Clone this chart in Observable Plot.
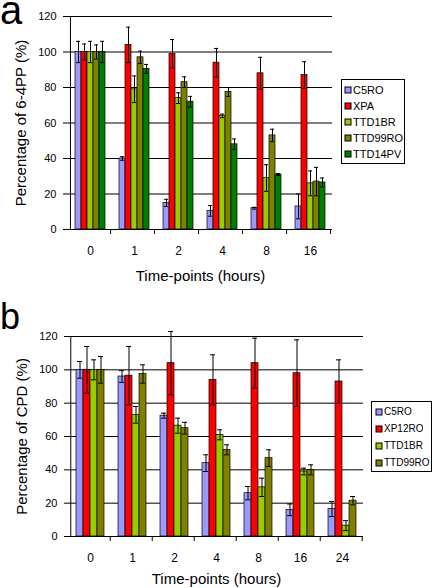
<!DOCTYPE html>
<html><head><meta charset="utf-8">
<script src="https://cdn.jsdelivr.net/npm/d3@7"></script>
<script src="https://cdn.jsdelivr.net/npm/@observablehq/plot@0.6"></script>
<style>
html,body{margin:0;padding:0;background:#fff;}
#wrap{position:relative;width:434px;height:588px;overflow:hidden;font-family:"Liberation Sans",Arial,sans-serif;color:#000;}
.panel{position:absolute;left:0;}
.panel svg{overflow:visible;}
.letter{position:absolute;left:0;line-height:1;color:#000;font-family:"Liberation Sans",Arial,sans-serif;}
.lgbox{position:absolute;border:1px solid #000;background:#fff;box-sizing:border-box;}
#wrap .lgbox *{font-family:"Liberation Sans",Arial,sans-serif !important;color:#000 !important;}
#wrap .lgbox > div, #wrap .lgbox > figure{margin:0 !important;padding:0 !important;columns:auto !important;}
#wrap .lgbox svg{overflow:visible;stroke:#000;stroke-width:1px;margin-right:2px !important;flex-shrink:0;}
svg [aria-label="y-axis label"], svg [aria-label="fx-axis label"]{font-size:15px;}
svg [aria-label="fx-axis tick label"]{font-size:12px;}
</style></head><body>
<div id="wrap"></div>
<script>
// ---------- Panel a: 6-4PP ----------
const timesA = ["0", "1", "2", "4", "8", "16"];
const seriesA = ["C5RO", "XPA", "TTD1BR", "TTD99RO", "TTD14PV"];
const colorsA = ["#9999FF", "#FF0000", "#99CC00", "#808000", "#008000"];
const a_C5RO    = [100, 40, 15, 10.5, 12, 13];
const a_XPA     = [100, 104, 99, 94, 88, 87];
const a_TTD1BR  = [100, 79, 74, 64, 29, 26];
const a_TTD99RO = [100, 97, 83, 77.5, 53, 27];
const a_TTD14PV = [100, 90.5, 72, 48, 31, 26.5];
const aErr_C5RO    = [6, 1, 2, 3, 0.5, 7];
const aErr_XPA     = [4.5, 10, 8, 8, 9, 7.5];
const aErr_TTD1BR  = [6, 7.5, 3, 1, 7.5, 7];
const aErr_TTD99RO = [4, 3.5, 3, 2.5, 3.5, 8];
const aErr_TTD14PV = [6, 2.5, 3, 3, 0.5, 2.5];
const yLabelA = "Percentage of 6-4PP (%)";

// ---------- Panel b: CPD ----------
const timesB = ["0", "1", "2", "4", "8", "16", "24"];
const seriesB = ["C5RO", "XP12RO", "TTD1BR", "TTD99RO"];
const colorsB = ["#9999FF", "#FF0000", "#99CC00", "#808000"];
const b_C5RO    = [100, 96, 72.5, 44, 26, 16, 16.5];
const b_XP12RO  = [100, 96.5, 104, 94, 104, 98, 93];
const b_TTD1BR  = [100, 73, 66.5, 61, 29.5, 39, 6.5];
const b_TTD99RO = [100, 97.5, 65, 52, 47, 40, 21.5];
const bErr_C5RO    = [5, 3.5, 1.5, 5, 4, 3.5, 4.5];
const bErr_XP12RO  = [14, 17.5, 19, 15, 15, 20, 13];
const bErr_TTD1BR  = [6, 5, 4.5, 3, 5.5, 2, 3];
const bErr_TTD99RO = [8, 5.5, 3.5, 3, 5, 3, 2.5];
const yLabelB = "Percentage of CPD (%)";

const xLabel = "Time-points (hours)";
const yTicks = [0, 20, 40, 60, 80, 100, 120];
const gridTicks = [20, 40, 60, 80, 100, 120];
const FONT = '"Liberation Sans", Arial, sans-serif';

function panel(cfg) {
  const {times, series, colors, values, errors, yLabel, width, height,
         marginTop, marginBottom, marginLeft, marginRight, pad, yLabelOffset, xLabelOffset, xTickPad} = cfg;
  const rows = series.flatMap((s, j) => times.map((t, i) => ({time: t, series: s, value: values[j][i], err: errors[j][i]})));
  const facetW = (width - marginLeft - marginRight) / times.length;
  const step = facetW / (series.length + 2 * pad);
  const edge = pad * step + step / 2;
  const plotH = height - marginTop - marginBottom;
  const tickLen = 5 * 120 / plotH;
  const bounds = times.map(t => ({time: t}));
  const last = series[series.length - 1];
  return Plot.plot({
    width, height, marginTop, marginBottom, marginLeft, marginRight,
    style: {fontFamily: FONT, fontSize: "11px", color: "#000", background: "transparent", overflow: "visible"},
    fx: {domain: times, paddingInner: 0, paddingOuter: 0},
    x: {domain: series, paddingInner: 0, paddingOuter: pad, axis: null},
    y: {domain: [0, 120]},
    color: {domain: series, range: colors},
    marks: [
      Plot.ruleY(gridTicks, {stroke: "#000", strokeWidth: 1}),
      Plot.barY(rows, {fx: "time", x: "series", y: "value", fill: "series", stroke: "#000", strokeWidth: 0.7}),
      Plot.ruleX(rows, {fx: "time", x: "series", y1: d => d.value - d.err, y2: d => d.value + d.err, stroke: "#000", strokeWidth: 1}),
      Plot.tickY(rows, {fx: "time", x: "series", y: d => d.value + d.err, stroke: "#000", strokeWidth: 1, insetLeft: 1, insetRight: 1}),
      Plot.tickY(rows, {fx: "time", x: "series", y: d => d.value - d.err, stroke: "#000", strokeWidth: 1, insetLeft: 1, insetRight: 1}),
      Plot.ruleY([0], {stroke: "#000", strokeWidth: 1}),
      Plot.ruleX(bounds, {fx: "time", x: () => last, dx: edge, y1: 0, y2: -tickLen, stroke: "#000"}),
      Plot.ruleX([{time: times[0]}], {fx: "time", x: () => series[0], dx: -edge, y1: 0, y2: 120, stroke: "#000"}),
      Plot.axisY({ticks: yTicks, tickSize: 5, tickPadding: 7, label: yLabel, labelAnchor: "center", labelArrow: "none", labelOffset: yLabelOffset, stroke: "#000"}),
      Plot.axisFx({anchor: "bottom", tickSize: 0, tickPadding: xTickPad, label: xLabel, labelAnchor: "center", labelArrow: "none", labelOffset: xLabelOffset})
    ]
  });
}

function legendBox(chart, cls, box) {
  const lg = chart.legend("color", {columns: 1, swatchSize: box.sw, className: cls});
  const div = document.createElement("div");
  div.className = "lgbox";
  Object.assign(div.style, {left: box.left + "px", top: box.top + "px", width: box.w + "px", height: box.h + "px",
    paddingLeft: box.pl + "px", paddingTop: box.pt + "px"});
  div.appendChild(lg);
  const st = document.createElement("style");
  st.textContent = `#wrap .${cls}-swatch{display:flex !important;align-items:center !important;height:${box.row}px !important;padding:0 !important;margin:0 !important;font-size:${box.fs}px !important;line-height:${box.row}px !important;}
  #wrap .${cls}-swatch::before{display:none !important;content:none !important;}`;
  document.head.appendChild(st);
  return div;
}

const wrap = document.getElementById("wrap");

const chartA = panel({
  times: timesA, series: seriesA, colors: colorsA,
  values: [a_C5RO, a_XPA, a_TTD1BR, a_TTD99RO, a_TTD14PV],
  errors: [aErr_C5RO, aErr_XPA, aErr_TTD1BR, aErr_TTD99RO, aErr_TTD14PV],
  yLabel: yLabelA, width: 434, height: 290,
  marginTop: 16, marginBottom: 61, marginLeft: 68, marginRight: 102, pad: 0.65,
  yLabelOffset: 53, xLabelOffset: 51, xTickPad: 17
});
const chartB = panel({
  times: timesB, series: seriesB, colors: colorsB,
  values: [b_C5RO, b_XP12RO, b_TTD1BR, b_TTD99RO],
  errors: [bErr_C5RO, bErr_XP12RO, bErr_TTD1BR, bErr_TTD99RO],
  yLabel: yLabelB, width: 434, height: 298,
  marginTop: 46, marginBottom: 52, marginLeft: 68, marginRight: 71, pad: 0.667,
  yLabelOffset: 53, xLabelOffset: 47, xTickPad: 17
});

const pa = document.createElement("div"); pa.className = "panel"; pa.style.top = "0px"; pa.appendChild(chartA); wrap.appendChild(pa);
const pb = document.createElement("div"); pb.className = "panel"; pb.style.top = "290px"; pb.appendChild(chartB); wrap.appendChild(pb);

wrap.appendChild(legendBox(chartA, "lga", {left: 341, top: 79, w: 64, h: 85, pl: 3, pt: 2, row: 16, fs: 11, sw: 6}));
wrap.appendChild(legendBox(chartB, "lgb", {left: 371, top: 401, w: 61, h: 71, pl: 4, pt: 1, row: 17, fs: 10, sw: 6}));

const la = document.createElement("div"); la.className = "letter"; la.textContent = "a";
Object.assign(la.style, {top: "-10px", left: "0px", fontSize: "40px"}); wrap.appendChild(la);
const lb = document.createElement("div"); lb.className = "letter"; lb.textContent = "b";
Object.assign(lb.style, {top: "299px", left: "0px", fontSize: "36px"}); wrap.appendChild(lb);
</script>
</body></html>
